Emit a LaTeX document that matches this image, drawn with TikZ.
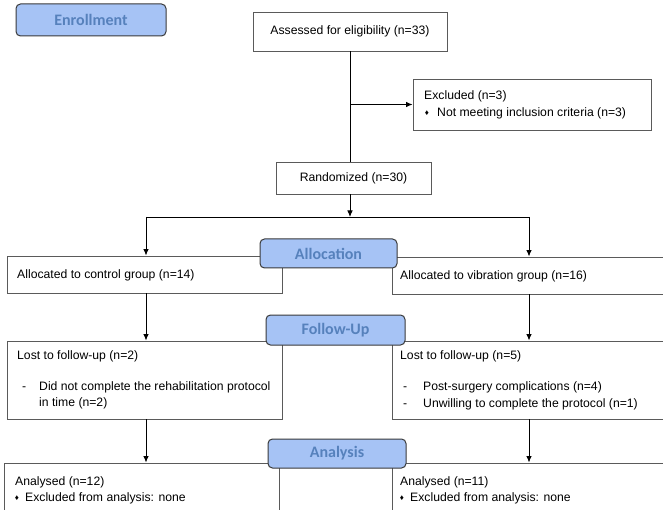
\documentclass[tikz,border=0pt]{standalone}
\usepackage{fontspec}
\setmainfont{Liberation Sans}
\newfontfamily\lblfont{Carlito}
\usetikzlibrary{arrows.meta}
\definecolor{boxline}{HTML}{5A5A5A}
\definecolor{lblfill}{HTML}{A6C3F5}
\definecolor{lbltext}{HTML}{5681BC}
\definecolor{lblline}{HTML}{3A3A3A}
\tikzset{
  box/.style={draw=boxline, line width=0.9pt, fill=white, rectangle, inner sep=0pt},
  stage/.style={draw=lblline, line width=1pt, fill=lblfill, rounded corners=4.5pt, inner sep=0pt,
    text=lbltext, font=\lblfont\bfseries\fontsize{16}{19}\selectfont},
  txt/.style={anchor=west, inner sep=0pt, text height=8.8pt, text depth=2.6pt, font=\fontsize{12.2}{14}\selectfont},
  bul/.style={anchor=center, inner sep=0pt, font=\fontsize{8}{9}\selectfont},
  conn/.style={draw=black, line width=0.9pt},
  arr/.style={conn, -{Latex[length=6.5pt,width=5.5pt]}}
}
\begin{document}
\begin{tikzpicture}[x=1pt,y=-1pt]
\fill[white] (0,0) rectangle (663,510);
\clip (0,0) rectangle (663,510);
% boxes
\node[box, minimum width=194pt, minimum height=39pt, font=\fontsize{12.2}{14}\selectfont] (assess) at (350,31.5) {Assessed for eligibility (n=33)};
\node[box, minimum width=238pt, minimum height=51pt] (excl) at (532,104.5) {};
\node[txt] (exclT) at (424,96) {Excluded (n=3)};
\node[bul] (exclB) at (427,113) {♦};
\node[txt] (exclT2) at (437,113) {Not meeting inclusion criteria (n=3)};
\node[box, minimum width=155pt, minimum height=32pt, font=\fontsize{12.2}{14}\selectfont] (rand) at (353.5,178) {Randomized (n=30)};

\node[box, minimum width=275pt, minimum height=37pt] (ctrl) at (144.5,274.5) {};
\node[txt] (ctrlT) at (17,275) {Allocated to control group (n=14)};
\node[box, minimum width=308pt, minimum height=37pt] (vib) at (546,275.5) {};
\node[txt] (vibT) at (400,276) {Allocated to vibration group (n=16)};

\node[box, minimum width=275pt, minimum height=78pt] (lostL) at (144.5,380) {};
\node[txt] (lostLT) at (17,356) {Lost to follow-up (n=2)};
\node[txt] (lostLd) at (22,387) {-};
\node[txt] (lostL1) at (39,387) {Did not complete the rehabilitation protocol};
\node[txt] (lostL2) at (39,403) {in time (n=2)};

\node[box, minimum width=308pt, minimum height=78pt] (lostR) at (546,380) {};
\node[txt] (lostRT) at (400,356) {Lost to follow-up (n=5)};
\node[txt] (lostRd1) at (403,387) {-};
\node[txt] (lostR1) at (423,387) {Post-surgery complications (n=4)};
\node[txt] (lostRd2) at (403,404) {-};
\node[txt] (lostR2) at (423,404) {Unwilling to complete the protocol (n=1)};

\node[box, minimum width=275pt, minimum height=80pt] (anL) at (141.5,503) {};
\node[txt] (anLT) at (15,482) {Analysed (n=12)};
\node[bul] (anLB) at (17,498) {♦};
\node[txt] (anL1) at (25,498) {Excluded from analysis: none};
\node[box, minimum width=308pt, minimum height=80pt] (anR) at (546,503) {};
\node[txt] (anRT) at (400,482) {Analysed (n=11)};
\node[bul] (anRB) at (402,498) {♦};
\node[txt] (anR1) at (410,498) {Excluded from analysis: none};

% stage labels
\node[stage, minimum width=150pt, minimum height=32pt] (enroll) at (91,20) {Enrollment};
\node[stage, minimum width=137pt, minimum height=29pt] (alloc) at (328.5,253.5) {Allocation};
\node[stage, minimum width=139pt, minimum height=30pt] (follow) at (335.5,330) {Follow-Up};
\node[stage, minimum width=138pt, minimum height=29pt] (analysis) at (337,453.5) {Analysis};

% connectors
\coordinate (sp) at (350,217);
\coordinate (spL) at (146,217);
\coordinate (spR) at (529,217);
\draw[conn] (assess.south) -- (assess.south |- rand.north);
\draw[arr] (assess.south |- excl.west) -- (excl.west);
\draw[arr] (rand.south -| assess.south) -- (sp);
\draw[conn] (spL) -- (spR);
\draw[arr] (spL) -- (spL |- ctrl.north);
\draw[arr] (spR) -- (spR |- vib.north);
\draw[arr] (spL |- ctrl.south) -- (spL |- lostL.north);
\draw[arr] (spR |- vib.south) -- (spR |- lostR.north);
\draw[arr] (spL |- lostL.south) -- (spL |- anL.north);
\draw[arr] (spR |- lostR.south) -- (spR |- anR.north);
\end{tikzpicture}
\end{document}
